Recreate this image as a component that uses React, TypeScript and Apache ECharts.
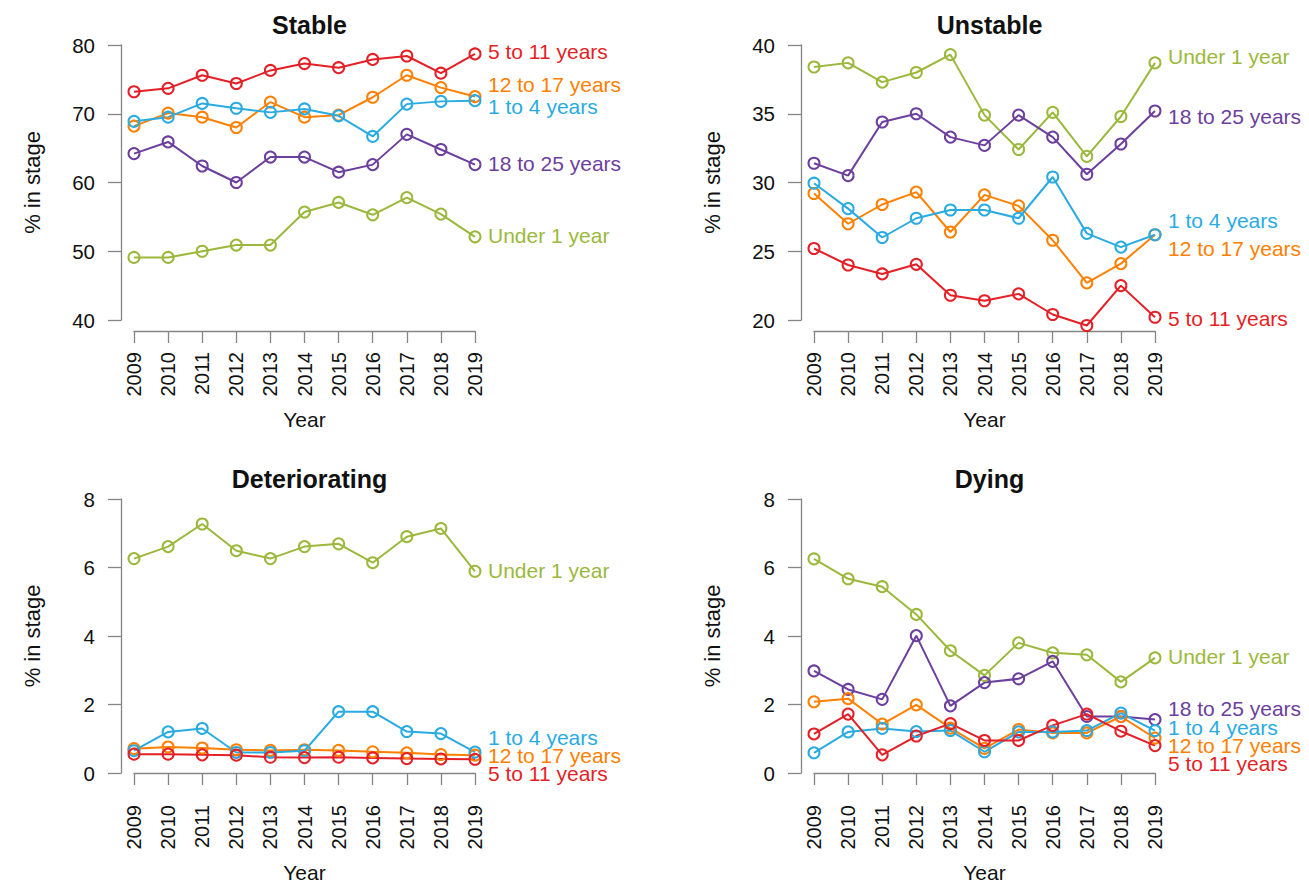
import React, { useEffect, useRef } from "react";
import * as echarts from "echarts";

const years = ["2009", "2010", "2011", "2012", "2013", "2014", "2015", "2016", "2017", "2018", "2019"];
const groupNames = ["Under 1 year", "1 to 4 years", "5 to 11 years", "12 to 17 years", "18 to 25 years"];
const groupColors = ["#9bb83c", "#29abe2", "#e41f26", "#ff8000", "#6c3f9e"];

const panelTitles = ["Stable", "Unstable", "Deteriorating", "Dying"];
const panelMin = [40, 20, 0, 0];
const panelMax = [80, 40, 8, 8];
const panelInterval = [10, 5, 2, 2];

// Stable
const stableUnder1 = [49.1, 49.1, 50.0, 50.9, 50.9, 55.7, 57.1, 55.3, 57.8, 55.4, 52.1];
const stable1to4 = [68.9, 69.5, 71.5, 70.8, 70.2, 70.7, 69.7, 66.7, 71.4, 71.8, 71.9];
const stable5to11 = [73.2, 73.7, 75.6, 74.4, 76.3, 77.3, 76.7, 77.9, 78.4, 75.9, 78.7];
const stable12to17 = [68.2, 70.1, 69.5, 68.0, 71.7, 69.5, 69.8, 72.4, 75.6, 73.8, 72.5];
const stable18to25 = [64.2, 65.9, 62.4, 60.0, 63.7, 63.7, 61.5, 62.6, 67.0, 64.8, 62.6];
const stableLabelY = [52.3, 71.0, 79.0, 74.2, 62.8];

// Unstable
const unstableUnder1 = [38.4, 38.7, 37.3, 38.0, 39.3, 34.9, 32.4, 35.1, 31.9, 34.8, 38.7];
const unstable1to4 = [29.95, 28.1, 26.0, 27.4, 28.0, 28.0, 27.4, 30.4, 26.3, 25.3, 26.2];
const unstable5to11 = [25.2, 24.0, 23.35, 24.05, 21.8, 21.4, 21.9, 20.4, 19.6, 22.5, 20.2];
const unstable12to17 = [29.2, 27.0, 28.4, 29.3, 26.4, 29.1, 28.3, 25.8, 22.7, 24.1, 26.2];
const unstable18to25 = [31.4, 30.5, 34.4, 35.0, 33.3, 32.7, 34.9, 33.3, 30.6, 32.8, 35.2];
const unstableLabelY = [39.2, 27.25, 20.1, 25.2, 34.8];

// Deteriorating (no 18 to 25 series shown)
const detUnder1 = [6.26, 6.61, 7.27, 6.49, 6.26, 6.61, 6.69, 6.14, 6.9, 7.14, 5.89];
const det1to4 = [0.65, 1.2, 1.3, 0.6, 0.6, 0.65, 1.79, 1.79, 1.21, 1.15, 0.61];
const det5to11 = [0.55, 0.55, 0.53, 0.52, 0.46, 0.45, 0.46, 0.44, 0.42, 0.41, 0.4];
const det12to17 = [0.71, 0.76, 0.73, 0.68, 0.66, 0.68, 0.66, 0.62, 0.59, 0.54, 0.52];
const detLabelY = [5.9, 1.05, 0, 0.5, null];

// Dying
const dyingUnder1 = [6.25, 5.67, 5.44, 4.63, 3.57, 2.85, 3.8, 3.51, 3.45, 2.66, 3.36];
const dying1to4 = [0.59, 1.2, 1.3, 1.21, 1.24, 0.62, 1.2, 1.2, 1.24, 1.75, 1.24];
const dying5to11 = [1.14, 1.72, 0.53, 1.08, 1.44, 0.95, 0.95, 1.39, 1.72, 1.22, 0.8];
const dying12to17 = [2.08, 2.17, 1.43, 1.99, 1.31, 0.72, 1.27, 1.17, 1.17, 1.65, 1.02];
const dying18to25 = [2.98, 2.44, 2.15, 4.01, 1.96, 2.64, 2.75, 3.26, 1.65, 1.65, 1.56];
const dyingLabelY = [3.39, 1.34, 0.29, 0.79, 1.87];

const panelData: (number[] | null)[][] = [
  [stableUnder1, stable1to4, stable5to11, stable12to17, stable18to25],
  [unstableUnder1, unstable1to4, unstable5to11, unstable12to17, unstable18to25],
  [detUnder1, det1to4, det5to11, det12to17, null],
  [dyingUnder1, dying1to4, dying5to11, dying12to17, dying18to25],
];
const panelLabelY: (number | null)[][] = [stableLabelY, unstableLabelY, detLabelY, dyingLabelY];

const FONT = "'Liberation Sans', Arial, Helvetica, sans-serif";
const AXIS_COLOR = "#858585";

// layout of each panel (plot area = the axis extents, R style)
const gridLeft = [134, 814, 134, 814];
const gridTop = [45, 45, 499, 499];
const gridW = 341;
const gridH = [275, 275, 274, 274];

export default function App() {
  const ref = useRef<HTMLDivElement>(null);

  useEffect(() => {
    if (!ref.current) return;
    const chart = echarts.init(ref.current, null, { renderer: "svg" });

    const grids = gridLeft.map((l, i) => ({
      left: l,
      top: gridTop[i],
      width: gridW,
      height: gridH[i],
      containLabel: false,
    }));

    const xAxes = grids.map((_, i) => ({
      type: "category",
      gridIndex: i,
      data: years,
      boundaryGap: false,
      offset: 11,
      name: "Year",
      nameLocation: "middle",
      nameGap: 78,
      nameTextStyle: { fontFamily: FONT, fontSize: 21, color: "#111" },
      axisLine: { show: true, lineStyle: { color: AXIS_COLOR, width: 1.3 } },
      axisTick: { show: true, length: 12, alignWithLabel: true, lineStyle: { color: AXIS_COLOR, width: 1.3 } },
      axisLabel: { rotate: 90, margin: 21, fontFamily: FONT, fontSize: 20, color: "#111", interval: 0 },
      splitLine: { show: false },
    }));

    const yAxes = grids.map((_, i) => ({
      type: "value",
      gridIndex: i,
      min: panelMin[i],
      max: panelMax[i],
      interval: panelInterval[i],
      offset: 13,
      name: "% in stage",
      nameLocation: "middle",
      nameGap: 78,
      nameTextStyle: { fontFamily: FONT, fontSize: 22, color: "#111" },
      axisLine: { show: true, lineStyle: { color: AXIS_COLOR, width: 1.3 } },
      axisTick: { show: true, length: 13, lineStyle: { color: AXIS_COLOR, width: 1.3 } },
      axisLabel: { margin: 26, fontFamily: FONT, fontSize: 20.5, color: "#111" },
      splitLine: { show: false },
    }));

    const titles = panelTitles.map((t, i) => ({
      text: t,
      left: gridLeft[i] + gridW / 2,
      top: gridTop[i] - 38,
      textAlign: "center",
      textStyle: { fontFamily: FONT, fontSize: 25, fontWeight: "bold", color: "#111" },
    }));

    const series: any[] = [];
    panelData.forEach((groups, p) => {
      // draw order: under 1, 18-25, 12-17, 1-4, 5-11
      const order = [0, 4, 3, 1, 2];
      order.forEach((g) => {
        const data = groups[g];
        if (!data) return;
        const color = groupColors[g];
        const labelY = panelLabelY[p][g];
        series.push({
          type: "line",
          name: groupNames[g],
          xAxisIndex: p,
          yAxisIndex: p,
          data,
          clip: false,
          symbol: "circle",
          symbolSize: 11,
          showAllSymbol: true,
          lineStyle: { color, width: 2 },
          itemStyle: { color: "rgba(0,0,0,0)", borderColor: color, borderWidth: 2 },
          emphasis: { disabled: true },
          markPoint: labelY == null ? undefined : {
            silent: true,
            symbol: "circle",
            symbolSize: 0,
            itemStyle: { color: "rgba(0,0,0,0)" },
            data: [{ coord: [years[years.length - 1], labelY], value: 0 }],
            label: {
              show: true,
              position: "right",
              distance: 13,
              formatter: groupNames[g],
              color,
              fontFamily: FONT,
              fontSize: 21,
            },
          },
        });
      });
    });

    chart.setOption({
      animation: false,
      backgroundColor: "#ffffff",
      title: titles,
      grid: grids,
      xAxis: xAxes,
      yAxis: yAxes,
      series,
    });

    return () => chart.dispose();
  }, []);

  return (
    <div
      ref={ref}
      style={{ position: "fixed", left: 0, top: 0, width: 1309, height: 888, background: "#fff" }}
    />
  );
}
